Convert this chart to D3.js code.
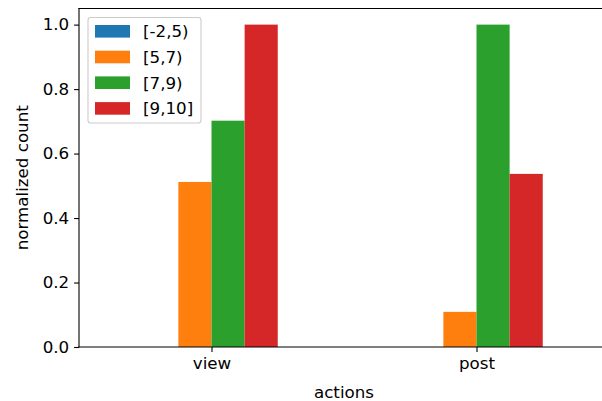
<!DOCTYPE html>
<html>
<head>
<meta charset="utf-8">
<script src="https://cdn.jsdelivr.net/npm/d3@7"></script>
<style>
  html, body { margin: 0; padding: 0; background: #fff; }
  svg { display: block; font-family: "DejaVu Sans", sans-serif; }
</style>
</head>
<body>
<svg id="chart" width="602" height="401"></svg>
<script>
// Categories on the x axis and the score bins used as series
const actions = ["view", "post"];
const bins = ["[-2,5)", "[5,7)", "[7,9)", "[9,10]"];
const binColors = ["#1f77b4", "#ff7f0e", "#2ca02c", "#d62728"];

// Normalized count per bin, one entry per action
const binMinus2to5 = [0.0, 0.0];
const bin5to7 = [0.512, 0.109];
const bin7to9 = [0.702, 1.0];
const bin9to10 = [1.0, 0.537];
const seriesValues = [binMinus2to5, bin5to7, bin7to9, bin9to10];

const yTicks = [0.0, 0.2, 0.4, 0.6, 0.8, 1.0];

const svg = d3.select("#chart");
const plotLeft = 79, plotRight = 609, plotTop = 8.5, plotBottom = 347;
const fontPx = 16.7;

// Numeric positions for the categories (0, 1) with half a unit of padding
const x = d3.scaleLinear().domain([-0.5, actions.length - 0.5]).range([plotLeft, plotRight]);
const y = d3.scaleLinear().domain([0, 1.05]).range([plotBottom, plotTop]);

const groupWidth = 0.5;
const barW = groupWidth / bins.length;

// Bars
bins.forEach((b, i) => {
  const offset = -groupWidth / 2 + i * barW;
  svg.append("g")
    .selectAll("rect")
    .data(seriesValues[i])
    .join("rect")
    .attr("x", (d, j) => x(j + offset))
    .attr("width", x(barW) - x(0))
    .attr("y", d => y(d))
    .attr("height", d => y(0) - y(d))
    .attr("fill", binColors[i]);
});

// Y axis
const yAxis = d3.axisLeft(y)
  .tickValues(yTicks)
  .tickFormat(d3.format(".1f"))
  .tickSize(4.9)
  .tickPadding(4.9);
const gy = svg.append("g").attr("transform", `translate(${plotLeft},0)`).call(yAxis);
gy.select(".domain").remove();
gy.selectAll(".tick line").attr("stroke", "#000").attr("stroke-width", 1.1);
gy.selectAll(".tick text").attr("font-size", fontPx).attr("fill", "#000")
  .attr("font-family", "DejaVu Sans, sans-serif");

// X axis
const xAxis = d3.axisBottom(x)
  .tickValues(d3.range(actions.length))
  .tickFormat(i => actions[i])
  .tickSize(4.9)
  .tickPadding(4.9);
const gx = svg.append("g").attr("transform", `translate(0,${plotBottom})`).call(xAxis);
gx.select(".domain").remove();
gx.selectAll(".tick line").attr("stroke", "#000").attr("stroke-width", 1.1);
gx.selectAll(".tick text").attr("font-size", fontPx).attr("fill", "#000")
  .attr("font-family", "DejaVu Sans, sans-serif");

// Spines
const spine = svg.append("g").attr("stroke", "#000").attr("stroke-width", 1.1).attr("stroke-linecap", "square");
spine.append("line").attr("x1", plotLeft).attr("x2", plotLeft).attr("y1", plotTop).attr("y2", plotBottom);
spine.append("line").attr("x1", plotLeft).attr("x2", plotRight).attr("y1", plotBottom).attr("y2", plotBottom);
spine.append("line").attr("x1", plotLeft).attr("x2", plotRight).attr("y1", plotTop).attr("y2", plotTop);
spine.append("line").attr("x1", plotRight).attr("x2", plotRight).attr("y1", plotTop).attr("y2", plotBottom);

// Axis titles
svg.append("text")
  .attr("x", (plotLeft + plotRight) / 2).attr("y", 398)
  .attr("text-anchor", "middle")
  .attr("font-size", fontPx)
  .text("actions");
svg.append("text")
  .attr("transform", `translate(28,${(plotTop + plotBottom) / 2}) rotate(-90)`)
  .attr("text-anchor", "middle")
  .attr("font-size", fontPx)
  .text("normalized count");

// Legend
const legend = svg.append("g");
legend.append("rect")
  .attr("x", 88).attr("y", 17.5).attr("width", 113).attr("height", 105.5)
  .attr("rx", 2.8)
  .attr("fill", "#fff").attr("fill-opacity", 0.8)
  .attr("stroke", "#cccccc").attr("stroke-width", 1.1);
bins.forEach((b, i) => {
  const ry = 25 + i * 25.7;
  legend.append("rect")
    .attr("x", 95).attr("y", ry).attr("width", 35).attr("height", 12.6)
    .attr("fill", binColors[i]);
  legend.append("text")
    .attr("x", 143).attr("y", ry + 6.3)
    .attr("dy", "0.36em")
    .attr("font-size", fontPx)
    .text(b);
});
</script>
</body>
</html>
